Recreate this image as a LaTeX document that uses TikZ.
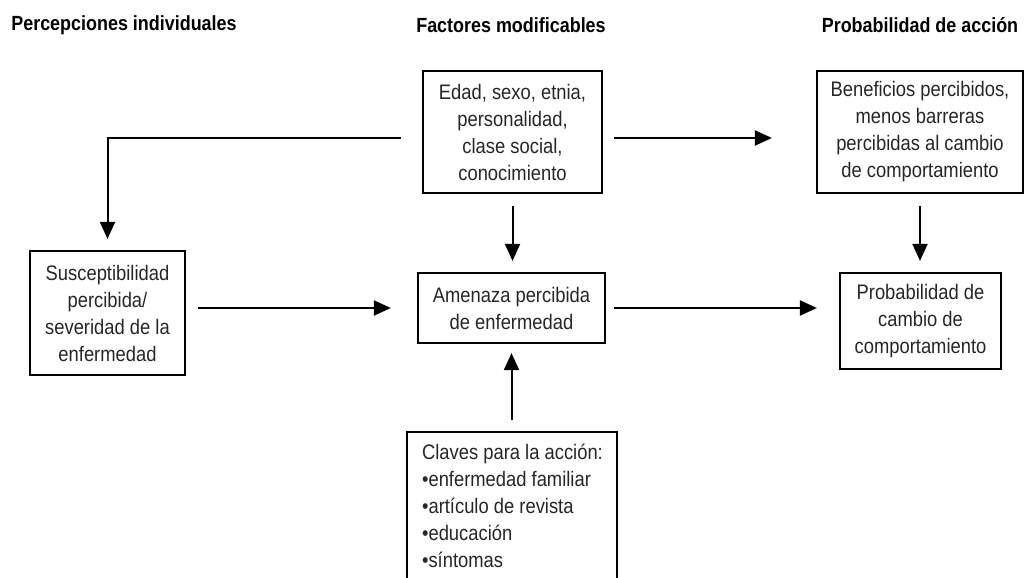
\documentclass[tikz,border=0pt]{standalone}
\usepackage{fontspec}
\setmainfont{Liberation Sans}[FakeStretch=0.875]
\usetikzlibrary{arrows.meta,calc}
\tikzset{
  box/.style={draw=black, line width=2.2pt, align=center, inner sep=0pt,
    text=black!85, font=\fontsize{21}{27}\selectfont},
  ttl/.style={font=\bfseries\fontsize{20.5}{22}\selectfont, text=black},
  arr/.style={line width=2pt, -{Triangle[length=17pt,width=15pt]}},
}
\begin{document}
\begin{tikzpicture}[x=1pt,y=-1pt]
\useasboundingbox (0,0) rectangle (1026,578);
\clip (0,0) rectangle (1026,578);
% titles
\node[ttl] (t1) at (124,25) {Percepciones individuales};
\node[ttl] (t2) at (511,25) {Factores modificables};
\node[ttl] (t3) at (920,25) {Probabilidad de acción};
% boxes
\node[box, minimum width=179pt, minimum height=122pt] (edad) at (512.5,132)
  {Edad, sexo, etnia,\\personalidad,\\clase social,\\conocimiento};
\node[box, minimum width=206pt, minimum height=122pt] (benef) at (920,132)
  {Beneficios percibidos,\\menos barreras\\percibidas al cambio\\de comportamiento};
\node[box, minimum width=155pt, minimum height=124pt] (susc) at (107.5,313)
  {Susceptibilidad\\percibida/\\severidad de la\\enfermedad};
\node[box, minimum width=187pt, minimum height=70pt] (amen) at (511.5,308)
  {Amenaza percibida\\de enfermedad};
\node[box, minimum width=161pt, minimum height=96pt] (prob) at (920.5,321)
  {Probabilidad de\\cambio de\\comportamiento};
\node[box, minimum width=210pt, minimum height=170pt, anchor=north] (claves) at (512,431) {};
\node[anchor=north west, align=left, inner sep=0pt, text=black!85,
  font=\fontsize{21}{27}\selectfont] (clavestxt) at ($(claves.north west)+(16,13)$)
  {Claves para la acción:\\•enfermedad familiar\\•artículo de revista\\•educación\\•síntomas};
% connectors
\draw[arr, shorten <=21pt, shorten >=11pt] ($(edad.west)+(0,6)$) -| (susc.north);
\draw[arr, shorten <=11pt, shorten >=44pt] ($(edad.east)+(0,6)$) -- ($(benef.west)+(0,6)$);
\draw[arr, shorten <=12pt, shorten >=11pt] (edad.south) -- (edad.south |- amen.north);
\draw[arr, shorten <=11pt, shorten >=9pt] (claves.north -| amen.south) -- (amen.south);
\draw[arr, shorten <=12pt, shorten >=26pt] (susc.east |- amen.west) -- (amen.west);
\draw[arr, shorten <=8pt, shorten >=22pt] (amen.east) -- (amen.east -| prob.west);
\draw[arr, shorten <=12pt, shorten >=11pt] (benef.south) -- (benef.south |- prob.north);
\end{tikzpicture}
\end{document}
